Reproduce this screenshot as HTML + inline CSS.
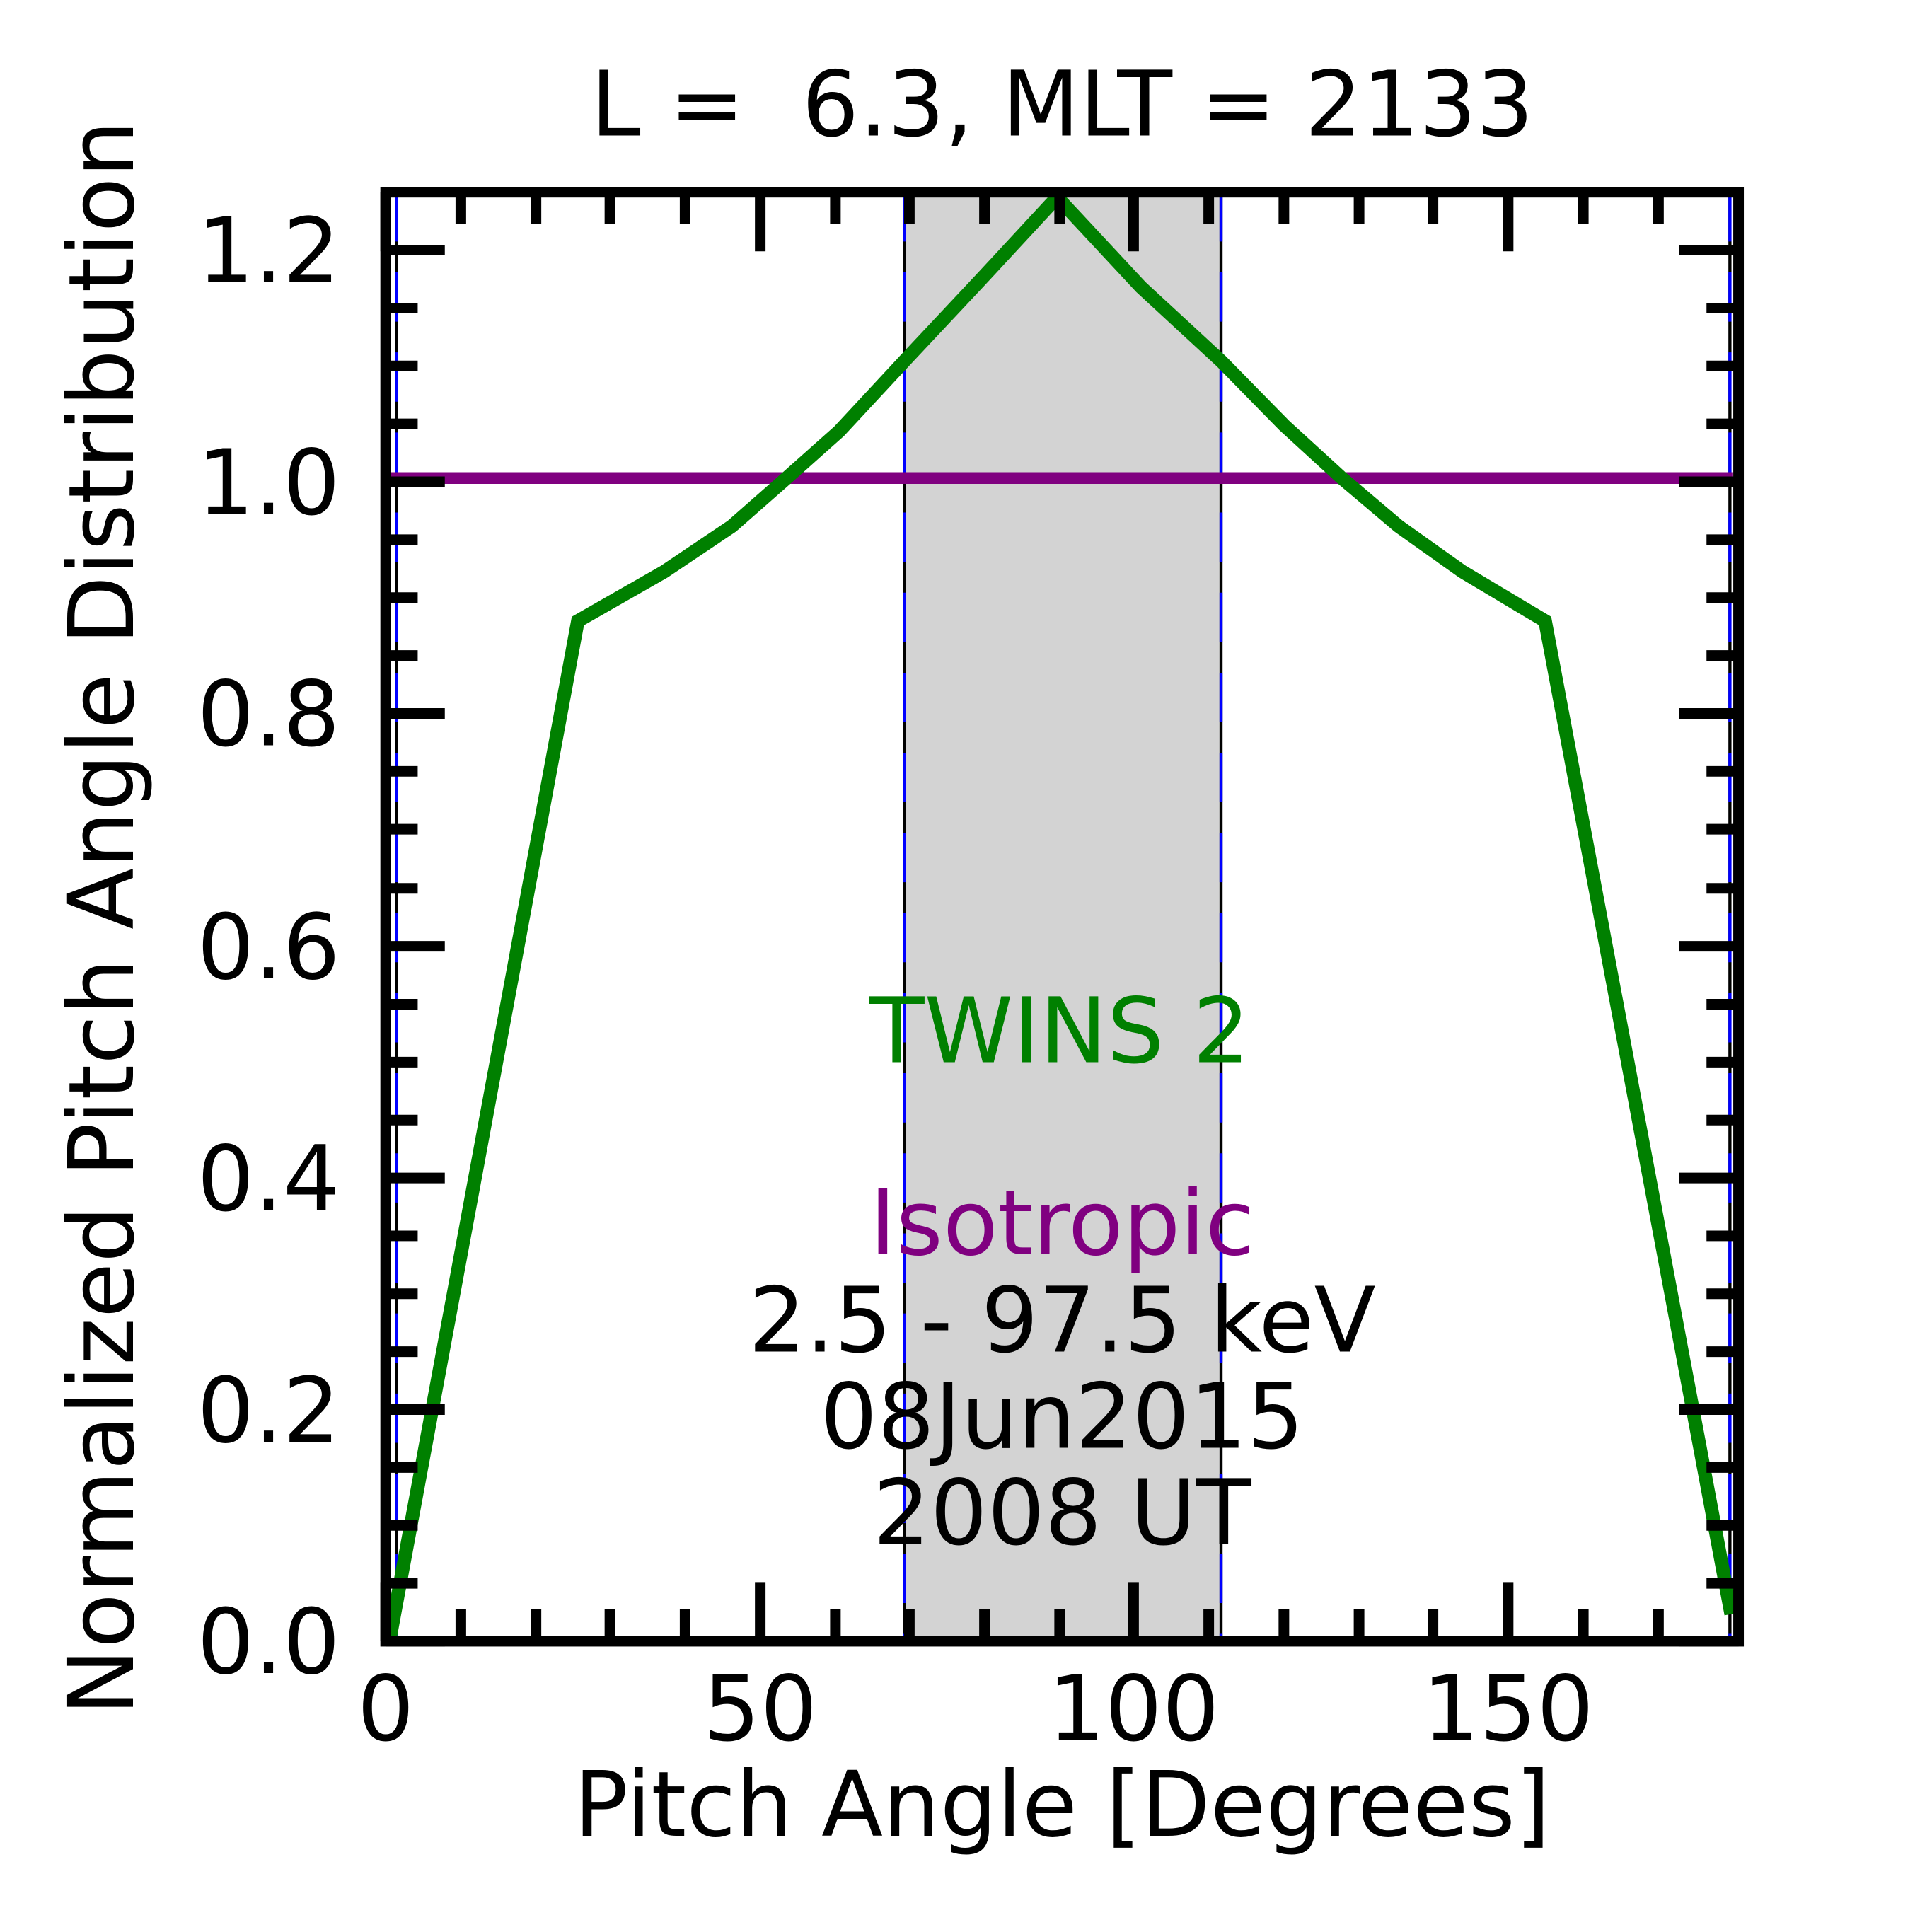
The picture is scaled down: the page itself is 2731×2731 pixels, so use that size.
<!DOCTYPE html>
<html><head><style>html,body{margin:0;padding:0;background:#fff}svg{display:block}</style></head>
<body>
<svg width="2731" height="2731" viewBox="0 0 1568 1568" xmlns="http://www.w3.org/2000/svg" font-family="'DejaVu Sans','Liberation Sans',sans-serif">
<rect width="1568" height="1568" fill="#fff"/>
<rect x="734" y="156" width="257" height="1176" fill="#d3d3d3"/>
<g stroke-width="2.5">
<line x1="734" y1="156" x2="734" y2="1332" stroke="#000"/>
<line x1="734" y1="156" x2="734" y2="1332" stroke="#00f" stroke-dasharray="40,25"/>
<line x1="991" y1="156" x2="991" y2="1332" stroke="#000"/>
<line x1="991" y1="156" x2="991" y2="1332" stroke="#00f" stroke-dasharray="40,25"/>
<line x1="322" y1="156" x2="322" y2="1332" stroke="#000"/>
<line x1="322" y1="156" x2="322" y2="1332" stroke="#00f" stroke-dasharray="40,25"/>
<line x1="1404" y1="156" x2="1404" y2="1332" stroke="#000"/>
<line x1="1404" y1="156" x2="1404" y2="1332" stroke="#00f" stroke-dasharray="40,25"/>
</g>
<line x1="313" y1="388" x2="1406" y2="388" stroke="#800080" stroke-width="9.5"/>
<polyline fill="none" stroke="#008000" stroke-width="11" stroke-linejoin="miter" points="316,1332 469,504 539,464 594,427 635,391 681,350 734,293 795,228 858,160 926,233 991,293 1042,345 1089,388 1135,427 1187,464 1254,504 1405,1310"/>
<g stroke="#000" stroke-width="8.6">
<path d="M313,1332v-48M617,1332v-48M920,1332v-48M1224,1332v-48M313,156v48M617,156v48M920,156v48M1224,156v48"/>
<path d="M374,1332v-26M435,1332v-26M495,1332v-26M556,1332v-26M678,1332v-26M738,1332v-26M799,1332v-26M860,1332v-26M981,1332v-26M1042,1332v-26M1103,1332v-26M1163,1332v-26M1285,1332v-26M1346,1332v-26
M374,156v26M435,156v26M495,156v26M556,156v26M678,156v26M738,156v26M799,156v26M860,156v26M981,156v26M1042,156v26M1103,156v26M1163,156v26M1285,156v26M1346,156v26"/>
<path d="M313,1332h48M313,1144h48M313,956h48M313,768h48M313,579h48M313,391h48M313,203h48M1411,1332h-48M1411,1144h-48M1411,956h-48M1411,768h-48M1411,579h-48M1411,391h-48M1411,203h-48"/>
<path d="M313,1285h26M313,1238h26M313,1191h26M313,1097h26M313,1050h26M313,1003h26M313,909h26M313,862h26M313,815h26M313,721h26M313,673h26M313,626h26M313,532h26M313,485h26M313,438h26M313,344h26M313,297h26M313,250h26
M1411,1285h-26M1411,1238h-26M1411,1191h-26M1411,1097h-26M1411,1050h-26M1411,1003h-26M1411,909h-26M1411,862h-26M1411,815h-26M1411,721h-26M1411,673h-26M1411,626h-26M1411,532h-26M1411,485h-26M1411,438h-26M1411,344h-26M1411,297h-26M1411,250h-26"/>
</g>
<rect x="313" y="156" width="1098" height="1176" fill="none" stroke="#000" stroke-width="8.6"/>
<g font-size="73" fill="#000">
<text x="862" y="110" text-anchor="middle" xml:space="preserve">L =  6.3, MLT = 2133</text>
<g text-anchor="end">
<text x="276" y="1358">0.0</text><text x="276" y="1170">0.2</text><text x="276" y="982">0.4</text>
<text x="276" y="794">0.6</text><text x="276" y="605">0.8</text><text x="276" y="417">1.0</text><text x="276" y="229">1.2</text>
</g>
<g text-anchor="middle">
<text x="313" y="1412">0</text><text x="617" y="1412">50</text><text x="920" y="1412">100</text><text x="1224" y="1412">150</text>
<text x="862" y="1490">Pitch Angle [Degrees]</text>
<text transform="translate(108,745) rotate(-90)">Normalized Pitch Angle Distribution</text>
<text x="860" y="862" fill="#008000">TWINS 2</text>
<text x="862" y="1018" fill="#800080">Isotropic</text>
<text x="862" y="1097">2.5 - 97.5 keV</text>
<text x="862" y="1175">08Jun2015</text>
<text x="862" y="1253">2008 UT</text>
</g>
</g>
</svg>
</body></html>
